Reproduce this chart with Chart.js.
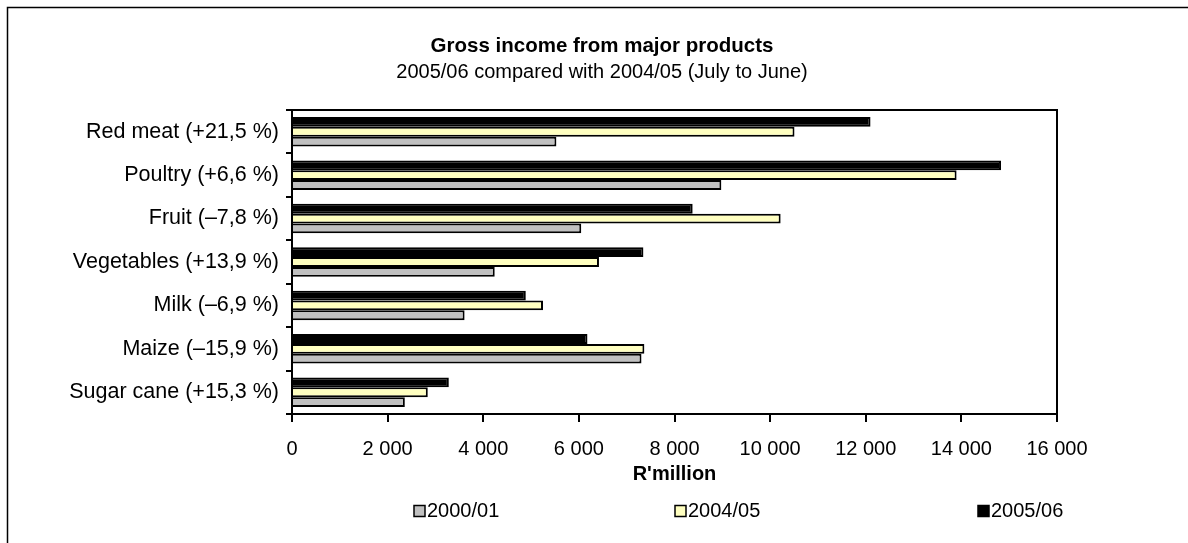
<!DOCTYPE html>
<html>
<head>
<meta charset="utf-8">
<script src="https://cdn.jsdelivr.net/npm/chart.js@4.4.1/dist/chart.umd.min.js"></script>
<style>
    html, body { margin: 0; padding: 0; background: #fff; }
    #wrap { width: 1188px; height: 543px; position: relative; }
</style>
</head>
<body>
<div id="wrap"><canvas id="incomeChart" width="1188" height="543"></canvas></div>
<script>
// categories (top to bottom)
const categories = [
    "Red meat (+21,5 %)",
    "Poultry (+6,6 %)",
    "Fruit (–7,8 %)",
    "Vegetables (+13,9 %)",
    "Milk (–6,9 %)",
    "Maize (–15,9 %)",
    "Sugar cane (+15,3 %)"
];
// R'million
const income2000 = [5530, 8980, 6050, 4240, 3610, 7310, 2360];
const income2004 = [10510, 13900, 10220, 6420, 5250, 7370, 2840];
const income2005 = [12100, 14830, 8380, 7350, 4890, 6180, 3280];
const seriesLabels = ["2000/01", "2004/05", "2005/06"];
const xMin = 0, xMax = 16000, xStep = 2000;
const titleText = "Gross income from major products";
const subtitleText = "2005/06 compared with 2004/05 (July to June)";

const FONT = '"Liberation Sans", Arial, sans-serif';

// thousands with a space: 12 000
const fmt = v => String(v).replace(/\B(?=(\d{3})+(?!\d))/g, " ");

// outer frame + box round the plot
const frames = {
    id: "frames",
    beforeDraw(chart) {
        const ctx = chart.ctx;
        ctx.save();
        ctx.strokeStyle = "#000";
        ctx.lineWidth = 1.5;
        ctx.beginPath();
        ctx.moveTo(7.5, chart.height);
        ctx.lineTo(7.5, 7.5);
        ctx.lineTo(chart.width, 7.5);
        ctx.stroke();
        ctx.restore();
    },
    afterDatasetsDraw(chart) {
        const { ctx, chartArea: a } = chart;
        ctx.save();
        ctx.strokeStyle = "#000";
        ctx.lineWidth = 2;
        ctx.strokeRect(a.left, a.top, a.right - a.left, a.bottom - a.top);
        ctx.restore();
    }
};

// title block, centred a little right of the canvas middle like the original
const titles = {
    id: "titles",
    afterDraw(chart) {
        const ctx = chart.ctx;
        const cx = 602;
        ctx.save();
        ctx.fillStyle = "#000";
        ctx.textAlign = "center";
        ctx.textBaseline = "middle";
        ctx.font = "bold 20.5px " + FONT;
        ctx.fillText(titleText, cx, 46);
        ctx.font = "20px " + FONT;
        ctx.fillText(subtitleText, cx, 72);
        ctx.restore();
    }
};

// legend along the bottom, 2000/01 first
const legendX = [414, 675, 978];
const bottomLegend = {
    id: "bottomLegend",
    afterDraw(chart) {
        const ctx = chart.ctx;
        const items = chart.data.datasets.slice().reverse();
        ctx.save();
        ctx.font = "20px " + FONT;
        ctx.textBaseline = "middle";
        items.forEach((ds, i) => {
            const x = legendX[i], y = 511;
            ctx.fillStyle = ds.backgroundColor;
            ctx.fillRect(x, y - 5.5, 11, 11);
            ctx.strokeStyle = "#000";
            ctx.lineWidth = 1.5;
            ctx.strokeRect(x, y - 5.5, 11, 11);
            ctx.fillStyle = "#000";
            ctx.fillText(ds.label, x + 13, y);
        });
        ctx.restore();
    }
};

const ctx = document.getElementById("incomeChart").getContext("2d");
new Chart(ctx, {
    type: "bar",
    data: {
        labels: categories,
        datasets: [
            { label: seriesLabels[2], data: income2005, backgroundColor: "#000000" },
            { label: seriesLabels[1], data: income2004, backgroundColor: "#FFFFC0" },
            { label: seriesLabels[0], data: income2000, backgroundColor: "#C0C0C0" }
        ]
    },
    options: {
        indexAxis: "y",
        responsive: false,
        animation: false,
        datasets: {
            bar: {
                borderColor: "#000",
                borderWidth: 2,
                barPercentage: 1.0,
                categoryPercentage: 0.68
            }
        },
        layout: { padding: { left: 0, right: 131, top: 110, bottom: 0 } },
        plugins: {
            legend: { display: false },
            tooltip: { enabled: false },
            title: { display: false }
        },
        scales: {
            x: {
                min: xMin,
                max: xMax,
                afterFit: s => { s.height = 129; },
                ticks: {
                    stepSize: xStep,
                    color: "#000",
                    padding: 15,
                    font: { family: FONT, size: 20 },
                    callback: v => fmt(v)
                },
                grid: { drawOnChartArea: false, tickLength: 8, color: "#000", lineWidth: 2 },
                border: { color: "#000", width: 2 },
                title: {
                    display: true,
                    text: "R'million",
                    color: "#000",
                    font: { family: FONT, size: 20, weight: "bold", lineHeight: 1.2 },
                    padding: { top: 0, bottom: 57 }
                }
            },
            y: {
                afterFit: s => { s.width = 292; },
                ticks: {
                    color: "#000",
                    padding: 7,
                    font: { family: FONT, size: 21.5 }
                },
                grid: { drawOnChartArea: false, offset: true, tickLength: 6, color: "#000", lineWidth: 2 },
                border: { color: "#000", width: 2 }
            }
        }
    },
    plugins: [frames, titles, bottomLegend]
});
</script>
</body>
</html>
